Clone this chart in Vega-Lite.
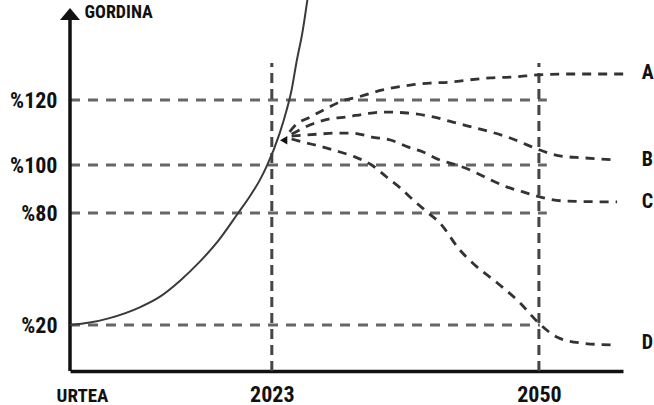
{
  "$schema": "https://vega.github.io/schema/vega-lite/v6.json",
  "width": 553,
  "height": 371,
  "autosize": {"type": "none"},
  "padding": {"left": 70, "top": 0, "right": 31, "bottom": 34},
  "background": "white",
  "config": {
    "view": {"stroke": null},
    "font": "Liberation Sans Narrow, Roboto Condensed, Liberation Sans",
    "text": {"font": "Liberation Sans Narrow, Roboto Condensed, Liberation Sans"}
  },
  "datasets": {
    "levels": [
      {"level": 120, "start": 2002.6, "end": 2050.8},
      {"level": 100, "start": 2002.6, "end": 2050.8},
      {"level": 80, "start": 2002.6, "end": 2050.8},
      {"level": 20, "start": 2002.6, "end": 2050.1}
    ],
    "years": [
      {"year": 2023, "low": 0, "high": 131.4},
      {"year": 2050, "low": 0, "high": 131.4}
    ],
    "axisline": [
      {"year": 2002.6, "low": 0, "high": 145}
    ],
    "arrowtop": [
      {"year": 2002.6, "value": 146.5}
    ],
    "pointer": [
      {"year": 2024.2, "value": 107.6}
    ],
    "growth": [
      {"year": 2002.6, "value": 20},
      {"year": 2004.6, "value": 21.3},
      {"year": 2006.6, "value": 23.7},
      {"year": 2009.7, "value": 29.6},
      {"year": 2011.7, "value": 35.2},
      {"year": 2013.7, "value": 43.6},
      {"year": 2015.7, "value": 53.8},
      {"year": 2017.5, "value": 64.5},
      {"year": 2019.6, "value": 80},
      {"year": 2020.8, "value": 87.1},
      {"year": 2021.8, "value": 93.8},
      {"year": 2022.5, "value": 99.6},
      {"year": 2023.8, "value": 109.8},
      {"year": 2024.5, "value": 116.9},
      {"year": 2025.0, "value": 123.1},
      {"year": 2025.5, "value": 131.7},
      {"year": 2026.1, "value": 140.9},
      {"year": 2026.6, "value": 150.8},
      {"year": 2027.0, "value": 158.5}
    ],
    "scenarios": [
      {"scenario": "A", "year": 2024.8, "value": 110.2},
      {"scenario": "A", "year": 2025.3, "value": 112.0},
      {"scenario": "A", "year": 2026.9, "value": 114.8},
      {"scenario": "A", "year": 2028.6, "value": 117.5},
      {"scenario": "A", "year": 2030.1, "value": 119.7},
      {"scenario": "A", "year": 2031.7, "value": 120.9},
      {"scenario": "A", "year": 2034.2, "value": 123.1},
      {"scenario": "A", "year": 2037.0, "value": 124.6},
      {"scenario": "A", "year": 2039.0, "value": 125.2},
      {"scenario": "A", "year": 2041.0, "value": 125.5},
      {"scenario": "A", "year": 2043.0, "value": 126.2},
      {"scenario": "A", "year": 2045.1, "value": 126.8},
      {"scenario": "A", "year": 2047.4, "value": 127.1},
      {"scenario": "A", "year": 2049.9, "value": 127.7},
      {"scenario": "A", "year": 2053.1, "value": 128.0},
      {"scenario": "A", "year": 2059.2, "value": 128.0},
      {"scenario": "B", "year": 2025.0, "value": 109.5},
      {"scenario": "B", "year": 2027.1, "value": 112.6},
      {"scenario": "B", "year": 2028.9, "value": 114.2},
      {"scenario": "B", "year": 2030.6, "value": 114.8},
      {"scenario": "B", "year": 2032.4, "value": 115.7},
      {"scenario": "B", "year": 2034.2, "value": 116.3},
      {"scenario": "B", "year": 2036.7, "value": 116.0},
      {"scenario": "B", "year": 2039.3, "value": 114.8},
      {"scenario": "B", "year": 2041.3, "value": 113.2},
      {"scenario": "B", "year": 2043.2, "value": 111.7},
      {"scenario": "B", "year": 2045.1, "value": 110.2},
      {"scenario": "B", "year": 2047.1, "value": 108.3},
      {"scenario": "B", "year": 2048.8, "value": 106.2},
      {"scenario": "B", "year": 2050.1, "value": 104.6},
      {"scenario": "B", "year": 2052.1, "value": 102.8},
      {"scenario": "B", "year": 2054.5, "value": 102.2},
      {"scenario": "B", "year": 2057.9, "value": 101.5},
      {"scenario": "C", "year": 2025.0, "value": 108.9},
      {"scenario": "C", "year": 2027.7, "value": 109.5},
      {"scenario": "C", "year": 2029.4, "value": 109.8},
      {"scenario": "C", "year": 2031.2, "value": 109.8},
      {"scenario": "C", "year": 2033.1, "value": 108.6},
      {"scenario": "C", "year": 2035.0, "value": 107.7},
      {"scenario": "C", "year": 2036.8, "value": 105.5},
      {"scenario": "C", "year": 2038.3, "value": 104.0},
      {"scenario": "C", "year": 2040.0, "value": 101.5},
      {"scenario": "C", "year": 2041.7, "value": 100.0},
      {"scenario": "C", "year": 2043.7, "value": 96.7},
      {"scenario": "C", "year": 2045.1, "value": 93.8},
      {"scenario": "C", "year": 2046.8, "value": 90.8},
      {"scenario": "C", "year": 2048.4, "value": 88.8},
      {"scenario": "C", "year": 2050.1, "value": 86.7},
      {"scenario": "C", "year": 2052.6, "value": 85.0},
      {"scenario": "C", "year": 2057.9, "value": 84.6},
      {"scenario": "D", "year": 2025.0, "value": 108.0},
      {"scenario": "D", "year": 2026.1, "value": 107.1},
      {"scenario": "D", "year": 2028.2, "value": 105.5},
      {"scenario": "D", "year": 2029.9, "value": 104.0},
      {"scenario": "D", "year": 2031.4, "value": 102.5},
      {"scenario": "D", "year": 2033.1, "value": 100.0},
      {"scenario": "D", "year": 2034.6, "value": 95.0},
      {"scenario": "D", "year": 2036.0, "value": 90.4},
      {"scenario": "D", "year": 2037.3, "value": 85.4},
      {"scenario": "D", "year": 2038.7, "value": 80.4},
      {"scenario": "D", "year": 2040.0, "value": 74.6},
      {"scenario": "D", "year": 2042.0, "value": 60.2},
      {"scenario": "D", "year": 2043.3, "value": 53.2},
      {"scenario": "D", "year": 2045.8, "value": 42.5},
      {"scenario": "D", "year": 2048.1, "value": 31.8},
      {"scenario": "D", "year": 2049.8, "value": 22.0},
      {"scenario": "D", "year": 2051.8, "value": 14.8},
      {"scenario": "D", "year": 2054.2, "value": 12.2},
      {"scenario": "D", "year": 2057.5, "value": 11.3}
    ],
    "labels": [
      {"scenario": "A", "year": 2060.4, "value": 128.3},
      {"scenario": "B", "year": 2060.4, "value": 101.5},
      {"scenario": "C", "year": 2060.4, "value": 84.6},
      {"scenario": "D", "year": 2060.4, "value": 12.2}
    ]
  },
  "layer": [
    {
      "data": {"name": "levels"},
      "mark": {"type": "rule", "color": "#666666", "strokeWidth": 3, "strokeDash": [10, 8]},
      "encoding": {
        "x": {
          "field": "start", "type": "quantitative",
          "scale": {"domain": [2002.6, 2058.5], "nice": false, "zero": false},
          "axis": {
            "values": [2023, 2050],
            "labelExpr": "datum.value",
            "title": "URTEA",
            "titleX": 12, "titleY": 30, "titleAlign": "center", "titleBaseline": "alphabetic",
            "titleFontSize": 19, "titleFontWeight": "bold", "titleColor": "#111111",
            "labelFontSize": 22, "labelFontWeight": "bold", "labelColor": "#111111",
            "labelBaseline": "alphabetic", "labelPadding": 30, "labelFlush": false,
            "ticks": false, "tickSize": 0, "grid": false,
            "domainColor": "#111111", "domainWidth": 3.5
          }
        },
        "x2": {"field": "end"},
        "y": {
          "field": "level", "type": "quantitative",
          "scale": {"domain": [0, 20, 80, 100, 120, 150], "range": [371, 325, 213, 165, 100, 2.5], "nice": false, "zero": false},
          "axis": {
            "values": [20, 80, 100, 120],
            "labelExpr": "'%' + datum.value",
            "title": "GORDINA",
            "titleAngle": 0, "titleX": 14, "titleY": 17, "titleAlign": "left", "titleBaseline": "alphabetic",
            "titleFontSize": 18, "titleFontWeight": "bold", "titleColor": "#111111",
            "labelFontSize": 22, "labelFontWeight": "bold", "labelColor": "#111111",
            "labelPadding": 13, "labelFlush": false, "ticks": false, "tickSize": 0, "grid": false, "domain": false
          }
        }
      }
    },
    {
      "data": {"name": "years"},
      "mark": {"type": "rule", "color": "#444444", "strokeWidth": 3, "strokeDash": [10, 6]},
      "encoding": {
        "x": {"field": "year", "type": "quantitative"},
        "y": {"field": "low", "type": "quantitative"},
        "y2": {"field": "high"}
      }
    },
    {
      "data": {"name": "axisline"},
      "mark": {"type": "rule", "color": "#111111", "strokeWidth": 3.5},
      "encoding": {
        "x": {"field": "year", "type": "quantitative"},
        "y": {"field": "low", "type": "quantitative"},
        "y2": {"field": "high"}
      }
    },
    {
      "data": {"name": "arrowtop"},
      "mark": {"type": "point", "shape": "M-1,0.6L1,0.6L0,-0.6Z", "size": 400, "filled": true, "color": "#111111", "opacity": 1},
      "encoding": {
        "x": {"field": "year", "type": "quantitative"},
        "y": {"field": "value", "type": "quantitative"}
      }
    },
    {
      "data": {"name": "growth"},
      "mark": {"type": "line", "color": "#3a3a3a", "strokeWidth": 2, "interpolate": "monotone"},
      "encoding": {
        "x": {"field": "year", "type": "quantitative"},
        "y": {"field": "value", "type": "quantitative"}
      }
    },
    {
      "data": {"name": "scenarios"},
      "mark": {"type": "line", "color": "#333333", "strokeWidth": 2.8, "strokeDash": [9, 7], "interpolate": "monotone"},
      "encoding": {
        "x": {"field": "year", "type": "quantitative"},
        "y": {"field": "value", "type": "quantitative"},
        "detail": {"field": "scenario", "type": "nominal"}
      }
    },
    {
      "data": {"name": "pointer"},
      "mark": {"type": "point", "shape": "triangle-left", "size": 70, "filled": true, "color": "#111111", "opacity": 1},
      "encoding": {
        "x": {"field": "year", "type": "quantitative"},
        "y": {"field": "value", "type": "quantitative"}
      }
    },
    {
      "data": {"name": "labels"},
      "mark": {"type": "text", "align": "left", "baseline": "middle", "fontSize": 20, "fontWeight": "bold", "color": "#111111"},
      "encoding": {
        "x": {"field": "year", "type": "quantitative"},
        "y": {"field": "value", "type": "quantitative"},
        "text": {"field": "scenario", "type": "nominal"}
      }
    }
  ]
}
